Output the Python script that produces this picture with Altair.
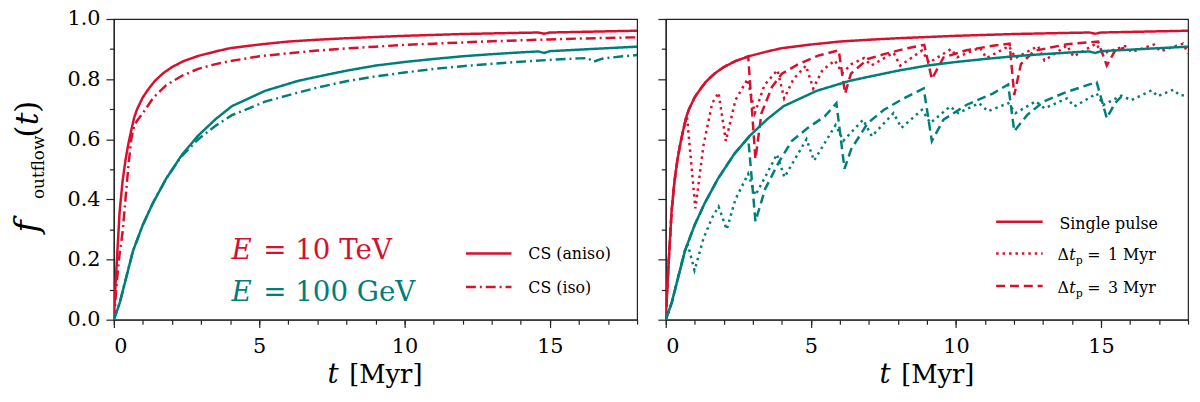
import pandas as pd
import altair as alt

RED = "#d6102f"
TEAL = "#007e7a"
INK = "#222222"
FONT = "DejaVu Serif"

ENERGIES = ["10 TeV", "100 GeV"]
KINDS = ["single", "iso", "dt1", "dt3"]
DASHES = [[1, 0], [10, 4, 2, 4], [2.5, 4], [9, 5]]
LEFT_LEGEND = ["CS (aniso)", "CS (iso)"]
RIGHT_LEGEND = ["Single pulse", "1 Myr", "3 Myr"]

X_MAJOR = [0, 5, 10, 15]
X_MINOR = list(range(19))
Y_MAJOR = [0.0, 0.2, 0.4, 0.6, 0.8, 1.0]
Y_MINOR = [0.1, 0.3, 0.5, 0.7, 0.9]

# E = 10 TeV, single pulse, anisotropic CS
t_hi_aniso = [0, 0.05, 0.1, 0.2, 0.3, 0.4, 0.5, 0.6, 0.7, 0.8,
              1.0, 1.2, 1.4, 1.7, 2.0, 2.4, 2.9, 3.5, 4.0, 5.0,
              6.0, 7.0, 8.0, 9.0, 10.0, 11.0, 12.0, 13.0, 14.0,
              14.6, 14.8, 15.0, 16.0, 17.0, 18.0]
f_hi_aniso = [0, 0.10, 0.19, 0.36, 0.46, 0.53, 0.585, 0.63, 0.672, 0.70,
              0.74, 0.768, 0.793, 0.82, 0.84, 0.86, 0.877, 0.892, 0.903, 0.915,
              0.925, 0.931, 0.936, 0.940, 0.944, 0.947, 0.950, 0.952, 0.954,
              0.955, 0.951, 0.955, 0.957, 0.959, 0.961]

# E = 10 TeV, isotropic CS
t_hi_iso = [0, 0.05, 0.1, 0.15, 0.2, 0.3, 0.4, 0.5, 0.6, 0.7,
            0.8, 1.0, 1.34, 1.8, 2.36, 2.9, 3.5, 4.0, 5.0, 6.0,
            7.0, 8.0, 9.0, 10.0, 11.0, 12.0, 13.0, 14.0, 15.0, 16.0, 17.0, 18.0]
f_hi_iso = [0, 0.06, 0.12, 0.175, 0.22, 0.29, 0.40, 0.51, 0.60, 0.645,
            0.662, 0.687, 0.736, 0.78, 0.812, 0.834, 0.85, 0.86, 0.876, 0.886,
            0.895, 0.902, 0.908, 0.914, 0.918, 0.922, 0.926, 0.929, 0.932, 0.935, 0.937, 0.939]

# E = 100 GeV, single pulse, anisotropic CS
t_lo_aniso = [0, 0.2, 0.43, 0.66, 1.0, 1.34, 1.8, 2.36, 2.9, 3.5,
              4.06, 5.2, 6.33, 7.0, 8.0, 9.0, 10.0, 11.0, 12.0, 13.0,
              14.0, 14.6, 14.8, 15.0, 16.0, 17.0, 18.0]
f_lo_aniso = [0, 0.055, 0.142, 0.229, 0.316, 0.387, 0.469, 0.551, 0.612, 0.667,
              0.71, 0.761, 0.794, 0.808, 0.828, 0.845, 0.857, 0.867, 0.876, 0.883,
              0.889, 0.892, 0.887, 0.893, 0.898, 0.903, 0.908]

# E = 100 GeV, isotropic CS
t_lo_iso = [0, 0.2, 0.43, 0.66, 1.0, 1.34, 1.8, 2.3, 2.9, 3.5,
            4.06, 5.2, 6.33, 7.0, 8.0, 9.0, 10.0, 11.0, 12.0, 13.0,
            14.0, 15.0, 16.0, 16.3, 16.5, 16.8, 17.5, 18.0]
f_lo_iso = [0, 0.055, 0.142, 0.229, 0.316, 0.387, 0.469, 0.54, 0.60, 0.645,
            0.68, 0.725, 0.755, 0.772, 0.793, 0.809, 0.822, 0.834, 0.843, 0.851,
            0.858, 0.864, 0.869, 0.870, 0.858, 0.868, 0.876, 0.880]

# E = 10 TeV, pulses every 1 Myr
t_hi_dt1 = [0, 0.05, 0.1, 0.2, 0.3, 0.4, 0.5, 0.6, 0.73, 1.02,
            1.3, 1.6, 1.82, 2.07, 2.4, 2.82, 3.07, 3.4, 3.85, 4.08,
            4.4, 4.83, 5.08, 5.4, 5.83, 6.08, 6.4, 6.83, 7.08, 7.85,
            8.08, 8.83, 9.08, 9.83, 10.05, 10.83, 11.05, 11.83, 12.05, 12.83,
            13.05, 13.83, 14.05, 14.83, 15.05, 15.83, 16.05, 16.83, 17.05, 17.83,
            18.0]
f_hi_dt1 = [0, 0.10, 0.19, 0.36, 0.46, 0.53, 0.585, 0.63, 0.676, 0.37,
            0.58, 0.72, 0.755, 0.594, 0.73, 0.80, 0.687, 0.78, 0.83, 0.736,
            0.80, 0.845, 0.769, 0.83, 0.862, 0.82, 0.85, 0.87, 0.845, 0.888,
            0.845, 0.895, 0.855, 0.90, 0.873, 0.905, 0.87, 0.91, 0.87, 0.91,
            0.862, 0.912, 0.875, 0.918, 0.885, 0.91, 0.89, 0.915, 0.893, 0.918,
            0.885]

# E = 10 TeV, pulses every 3 Myr
t_hi_dt3 = [0, 0.05, 0.1, 0.2, 0.3, 0.4, 0.5, 0.6, 0.7, 0.8,
            1.0, 1.2, 1.4, 1.7, 2.0, 2.4, 2.84, 3.09, 3.3, 3.66,
            4.0, 4.57, 5.25, 5.96, 6.18, 6.38, 6.96, 7.52, 8.2, 8.91,
            9.17, 9.57, 10.36, 11.27, 11.85, 12.01, 12.24, 12.7, 13.26, 13.83,
            14.9, 15.2, 15.48, 15.8]
f_hi_dt3 = [0, 0.10, 0.19, 0.36, 0.46, 0.53, 0.585, 0.63, 0.672, 0.70,
            0.74, 0.768, 0.793, 0.82, 0.84, 0.86, 0.876, 0.534, 0.687, 0.774,
            0.818, 0.85, 0.878, 0.896, 0.752, 0.818, 0.867, 0.883, 0.90, 0.914,
            0.80, 0.872, 0.896, 0.911, 0.918, 0.747, 0.85, 0.894, 0.905, 0.916,
            0.925, 0.845, 0.894, 0.905]

# E = 100 GeV, pulses every 1 Myr
t_lo_dt1 = [0, 0.2, 0.43, 0.66, 0.76, 0.99, 1.3, 1.6, 1.82, 2.1,
            2.4, 2.84, 3.09, 3.4, 3.83, 4.09, 4.85, 5.11, 5.85, 6.12,
            6.8, 7.1, 7.85, 8.12, 8.83, 9.12, 9.8, 10.08, 10.8, 11.1,
            11.8, 12.05, 12.75, 13.05, 13.83, 14.08, 14.85, 15.08, 15.7, 16.05,
            16.75, 16.95, 17.5, 17.7, 18.0]
f_lo_dt1 = [0, 0.055, 0.142, 0.229, 0.25, 0.164, 0.27, 0.34, 0.376, 0.30,
            0.40, 0.485, 0.414, 0.47, 0.55, 0.474, 0.60, 0.529, 0.647, 0.595,
            0.665, 0.61, 0.687, 0.638, 0.698, 0.654, 0.709, 0.687, 0.72, 0.693,
            0.72, 0.687, 0.726, 0.703, 0.736, 0.709, 0.752, 0.714, 0.745, 0.73,
            0.763, 0.743, 0.765, 0.747, 0.745]

# E = 100 GeV, pulses every 3 Myr
t_lo_dt3 = [0, 0.2, 0.43, 0.66, 1.0, 1.34, 1.8, 2.36, 2.84, 3.09,
            3.43, 3.89, 4.34, 4.9, 5.48, 5.88, 6.16, 6.39, 6.96, 7.52,
            8.2, 8.89, 9.17, 9.57, 10.36, 11.27, 11.8, 12.01, 12.46, 13.03,
            13.83, 14.85, 15.2, 15.48, 15.7]
f_lo_dt3 = [0, 0.055, 0.142, 0.229, 0.316, 0.387, 0.469, 0.551, 0.605, 0.327,
            0.436, 0.523, 0.594, 0.638, 0.676, 0.72, 0.502, 0.567, 0.654, 0.698,
            0.736, 0.769, 0.594, 0.665, 0.714, 0.752, 0.782, 0.627, 0.681, 0.726,
            0.758, 0.79, 0.67, 0.72, 0.742]


def series(t, f, energy, kind):
    return pd.DataFrame({"t": t, "f": f, "energy": energy, "kind": kind,
                         "name": energy + " " + kind})


left_df = pd.concat([
    series(t_hi_aniso, f_hi_aniso, "10 TeV", "single"),
    series(t_hi_iso, f_hi_iso, "10 TeV", "iso"),
    series(t_lo_aniso, f_lo_aniso, "100 GeV", "single"),
    series(t_lo_iso, f_lo_iso, "100 GeV", "iso"),
])
right_df = pd.concat([
    series(t_hi_aniso, f_hi_aniso, "10 TeV", "single"),
    series(t_hi_dt1, f_hi_dt1, "10 TeV", "dt1"),
    series(t_hi_dt3, f_hi_dt3, "10 TeV", "dt3"),
    series(t_lo_aniso, f_lo_aniso, "100 GeV", "single"),
    series(t_lo_dt1, f_lo_dt1, "100 GeV", "dt1"),
    series(t_lo_dt3, f_lo_dt3, "100 GeV", "dt3"),
])


def txt(s, x, y, size=16, color="black", italic=False, angle=0):
    return alt.Chart(alt.Data(values=[{"s": s}])).mark_text(
        font=FONT, fontSize=size, fontStyle="italic" if italic else "normal",
        color=color, align="left", baseline="alphabetic", angle=angle
    ).encode(x=alt.value(x), y=alt.value(y), text="s:N")


def sample(x1, x2, y, dash):
    return alt.Chart(alt.Data(values=[{}])).mark_rule(
        color=RED, strokeWidth=2.5, strokeDash=dash
    ).encode(x=alt.value(x1), x2=alt.value(x2), y=alt.value(y))


def panel(df, y_labels, extra, width):
    xs = alt.Scale(domain=[0, 18], nice=False, zero=False)
    ys = alt.Scale(domain=[0, 1], nice=False)
    lines = alt.Chart(df).mark_line(strokeWidth=2.5, clip=True).encode(
        x=alt.X("t:Q", scale=xs, axis=alt.Axis(
            orient="bottom", values=X_MAJOR, tickSize=8, labelPadding=8, title=None)),
        y=alt.Y("f:Q", scale=ys, axis=alt.Axis(
            orient="left", values=Y_MAJOR, format=".1f", tickSize=8,
            labelPadding=6, labels=y_labels, title=None)),
        color=alt.Color("energy:N", scale=alt.Scale(domain=ENERGIES, range=[RED, TEAL]), legend=None),
        strokeDash=alt.StrokeDash("kind:N", scale=alt.Scale(domain=KINDS, range=DASHES), legend=None),
        detail="name:N",
    )
    minor = alt.Chart(df).mark_point(opacity=0).encode(
        x=alt.X("t:Q", scale=xs, axis=alt.Axis(
            orient="bottom", values=X_MINOR, tickSize=4.5, labels=False, domain=False, title=None)),
        y=alt.Y("f:Q", scale=ys, axis=alt.Axis(
            orient="left", values=Y_MINOR, tickSize=4.5, labels=False, domain=False, title=None)),
    )
    xtitle = [txt("t", 216, 368, 28, italic=True), txt("[Myr]", 238, 368, 26)]
    return alt.layer(minor, lines, *xtitle, *extra).resolve_axis(
        x="independent", y="independent").properties(width=width, height=304)


left_extra = [
    txt("E", 119, 243, 28, RED, italic=True), txt("= " + ENERGIES[0], 151, 243, 28, RED),
    txt("E", 119, 285, 28, TEAL, italic=True), txt("= " + ENERGIES[1], 151, 285, 28, TEAL),
    sample(356, 402, 237, DASHES[0]), sample(356, 402, 271, DASHES[1]),
    txt(LEFT_LEGEND[0], 419, 243), txt(LEFT_LEGEND[1], 419, 277),
    # y title: f_outflow(t)
    txt("f", -77, 216, 34, italic=True, angle=270),
    txt("outflow", -71, 182, 17, angle=270),
    txt("(", -77, 120, 32, angle=270),
    txt("t", -77, 107.5, 32, italic=True, angle=270),
    txt(")", -77, 95, 32, angle=270),
]

right_extra = [
    sample(334, 381, 205, DASHES[0]), sample(334, 381, 237, DASHES[2]),
    sample(334, 381, 270, DASHES[3]),
    txt(RIGHT_LEGEND[0], 398, 212),
]
for label, y in zip(RIGHT_LEGEND[1:], [244, 277]):
    right_extra += [txt("\u0394", 396, y), txt("t", 408, y, italic=True),
                    txt("p", 414.5, y + 4, 11), txt("=", 426, y), txt(label, 447, y)]

left = panel(left_df, True, left_extra, 529)
right = panel(right_df, False, right_extra, 528)

chart = alt.hconcat(left, right, spacing=15).configure_view(
    stroke=INK, strokeWidth=1.2
).configure_axis(
    domainColor=INK, tickColor=INK, domainWidth=1.2, tickWidth=1.2,
    labelFont=FONT, labelFontSize=21, labelColor="black", grid=False
).properties(padding={"left": 2, "top": -3, "right": 0, "bottom": 0})

chart.save("out.html", embed_options={"renderer": "svg", "actions": False})
